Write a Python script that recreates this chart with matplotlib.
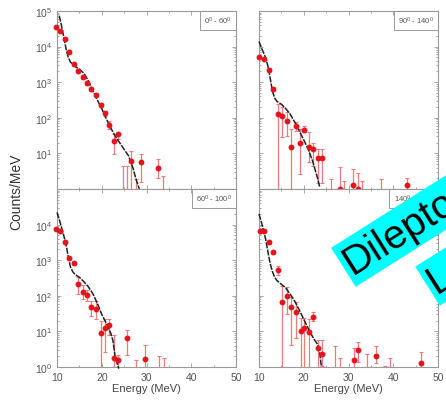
import matplotlib
matplotlib.use('Agg')
import matplotlib.pyplot as plt
import numpy as np
from matplotlib.ticker import FixedLocator, FixedFormatter, MultipleLocator, LogLocator, NullFormatter

plt.rcParams['font.family'] = ['Liberation Sans', 'DejaVu Sans']
plt.rcParams['mathtext.fontset'] = 'custom'
plt.rcParams['mathtext.rm'] = 'Liberation Sans'
plt.rcParams['mathtext.it'] = 'Liberation Sans'

nan = np.nan

# ---- 0 - 60 deg (top left) ----
e_a = [9.7, 10.7, 11.8, 12.75, 13.8, 14.8, 15.8, 16.8, 17.7, 18.7, 19.8, 20.7, 21.7, 22.7, 23.7,
       24.8, 25.7, 26.6, 27.6, 28.7, 32.6, 33.7]
v_a = [3.5e4, 2.8e4, 1.6e4, 7.2e3, 3.2e3, 2.1e3, 1.4e3, 950, 650, 450, 230, 134, 63, 22, 35,
       nan, nan, 6.3, nan, 5.6, 3.9, nan]
lo_a = [3.2e4, 2.6e4, 1.5e4, 6.6e3, 2.9e3, 1.9e3, 1.25e3, 850, 580, 400, 205, 110, 49, 9.6, 25,
        0.1, 0.1, 0.1, 0.1, 1.6, 2.1, 0.1]
hi_a = [3.8e4, 3.0e4, 1.7e4, 7.8e3, 3.5e3, 2.3e3, 1.55e3, 1050, 720, 500, 255, 160, 83, 35, 39,
        4.5, 4.4, 12, 1.9, 9.6, 6.9, 2.3]
ce_a = [10.5, 11.0, 11.5, 12.0, 12.5, 13.0, 13.5, 14.0, 15.0, 16.0, 17.0, 18.0, 19.0, 20.0, 21.0,
        22.0, 23.0, 24.0, 25.0, 26.0, 27.0, 27.6, 28.4]
cy_a = [7.4e4, 3.9e4, 1.9e4, 9.0e3, 5.0e3, 3.7e3, 3.2e3, 2.8e3, 2.3e3, 1.8e3, 1.1e3, 580, 320, 180, 95,
        52, 31, 20, 13, 8.5, 3.8, 2.0, 1.0]

# ---- 90 - 140 deg (top right) ----
e_b = [10.07, 11.2, 12.2, 13.2, 14.2, 15.2, 16.2, 17.2, 18.2, 19.2, 20.1, 21.2, 22.1, 23.1, 24.1,
       26.0, 28.0, 29.1, 31.0, 32.1, 33.1, 37.2, 43.1]
v_b = [5000, 4500, 2240, 645, 128, 110, 83, 15, 60, 19, 46, 15.5, 13, 7.3, 7.3,
       nan, 1.0, nan, 1.3, 1.0, nan, nan, 1.3]
lo_b = [4600, 4100, 2000, 560, 0.1, 28, 31, 0.1, 43, 2.6, 39, 5.6, 4.5, 1.5, 1.5,
        0.1, 0.1, 0.1, 0.1, 0.1, 0.1, 0.1, 1.0]
hi_b = [5400, 4900, 2500, 740, 245, 196, 142, 49, 78, 49, 60, 39, 20, 13, 13,
        1.9, 4.2, 1.7, 3.6, 2.9, 1.7, 1.9, 2.0]
ce_b = [10.0, 10.5, 11.0, 11.5, 12.0, 12.5, 13.0, 13.5, 14.0, 15.0, 16.0, 17.0, 18.0, 19.0, 20.0,
        21.0, 22.0, 22.5, 23.0, 23.6]
cy_b = [1.4e4, 9.5e3, 6.8e3, 4.8e3, 2.8e3, 1.3e3, 560, 360, 290, 240, 180, 125, 75, 43, 24,
        13, 6.0, 3.6, 2.2, 1.1]

# ---- 60 - 100 deg (bottom left) ----
e_c = [9.7, 10.7, 11.8, 12.75, 13.8, 14.8, 15.8, 16.8, 17.7, 18.7, 19.8, 20.7, 21.7, 22.7, 23.7,
       25.7, 27.6, 29.7, 32.8, 33.8]
v_c = [7600, 6500, 3150, 1130, 810, 220, 130, 108, 49, 42, 9, 12.5, 15.6, 1.8, 1.6,
       6.5, nan, 1.7, nan, nan]
lo_c = [7000, 6000, 2900, 1040, 740, 112, 81, 73, 27, 22, 0.1, 2.7, 8.1, 0.1, 0.1,
        2.2, 0.1, 0.1, 0.1, 0.1]
hi_c = [8200, 7000, 3400, 1220, 880, 337, 204, 141, 73, 73, 19.5, 22, 22, 8.1, 2.2,
        10.6, 1.6, 4.2, 2.0, 1.75]
ce_c = [10.0, 10.5, 11.0, 11.5, 12.0, 12.5, 13.0, 13.5, 14.0, 15.0, 16.0, 17.0, 18.0, 19.0, 20.0,
        21.0, 22.0, 22.5, 23.0, 23.5, 23.8]
cy_c = [2.2e4, 1.4e4, 8.5e3, 5.0e3, 2.8e3, 1.3e3, 650, 480, 400, 330, 250, 180, 115, 62, 30,
        17, 9, 5.5, 1.9, 1.2, 0.9]

# ---- 140 - 180 deg (bottom right) ----
e_d = [10.2, 11.2, 12.2, 13.2, 14.2, 15.2, 16.2, 17.2, 18.2, 19.3, 20.1, 21.2, 22.1, 23.1, 24.1,
       27.0, 28.0, 31.2, 32.2, 34.2, 36.2, 38.2, 39.2, 46.2]
v_d = [6800, 6800, 3150, 1660, 525, 65, 100, 47, 34, 10, 12.6, 9.6, 25, 3.5, 2.3,
       nan, nan, 1.6, 3.0, nan, 2.1, nan, nan, 1.3]
lo_d = [6300, 6300, 2900, 1530, 380, 0.1, 30, 4.2, 6.5, 0.1, 0.1, 0.1, 19.5, 0.1, 1.1,
        0.1, 0.1, 0.1, 1.4, 0.1, 1.26, 0.1, 0.1, 0.1]
hi_d = [7300, 7300, 3400, 1790, 680, 183, 175, 91, 65, 24, 24, 22, 34, 5.8, 5.8,
        3.8, 1.75, 3.4, 5.2, 2.3, 4.0, 1.1, 1.75, 2.7]
ce_d = [10.0, 10.5, 11.0, 11.5, 12.0, 12.5, 13.0, 13.5, 14.0, 15.0, 16.0, 17.0, 18.0, 19.0, 20.0,
        21.0, 22.0, 22.5, 23.0, 23.5, 23.7, 23.9]
cy_d = [2.0e4, 1.2e4, 7.0e3, 3.8e3, 1.7e3, 800, 480, 330, 270, 210, 165, 110, 70, 40, 22,
        12, 7, 5.5, 4.5, 3.0, 1.8, 1.1]

panel_labels = ['0$^0$ - 60$^0$', '90$^0$ - 140$^0$', '60$^0$ - 100$^0$', '140$^0$ - 180$^0$']
x_ticks = [10, 20, 30, 40, 50]
y_ticks = [1, 10, 100, 1e3, 1e4, 1e5]
y_labels_top = ['', '10$^1$', '10$^2$', '10$^3$', '10$^4$', '10$^5$']
y_labels_bot = ['10$^0$', '10$^1$', '10$^2$', '10$^3$', '10$^4$', '']

RED = '#e3141c'
BAR = '#f07a7a'
GRID = '#9a9a9a'

fig = plt.figure(figsize=(4.46, 4.02), dpi=100)
W, H = 446.0, 402.0
pos = [(57, 12), (259, 12), (57, 190), (259, 190)]   # left, top in pixels
pw, ph = 179, 178

data = [(e_a, v_a, lo_a, hi_a, ce_a, cy_a),
        (e_b, v_b, lo_b, hi_b, ce_b, cy_b),
        (e_c, v_c, lo_c, hi_c, ce_c, cy_c),
        (e_d, v_d, lo_d, hi_d, ce_d, cy_d)]

for i, (px, py) in enumerate(pos):
    ax = fig.add_axes([px / W, 1 - (py + ph) / H, pw / W, ph / H])
    e, v, lo, hi, ce, cy = [np.array(a, dtype=float) for a in data[i]]
    ax.set_yscale('log')
    ax.set_xlim(10, 50)
    ax.set_ylim(1, 1e5)

    # error bars (drawn from upper end down to lower end)
    ax.errorbar(e, hi, yerr=[hi - lo, np.zeros_like(hi)], fmt='none', ecolor=BAR,
                elinewidth=0.9, capsize=1.6, capthick=0.8, zorder=2)
    ok = ~np.isnan(v)
    ax.plot(e[ok], v[ok], 'o', ms=3.2, color=RED, mec=RED, zorder=4, clip_on=False)
    ax.plot(ce, cy, color='#222222', lw=1.1, dashes=(4, 0.8), zorder=3, clip_on=False)

    ax.text(0.978, 0.978, panel_labels[i], transform=ax.transAxes, ha='right', va='top',
            fontsize=5.5, color='#555555',
            bbox=dict(boxstyle='square,pad=0.55', fc='white', ec='#8a8a8a', lw=0.6))

    for s in ax.spines.values():
        s.set_color(GRID)
        s.set_linewidth(0.8)
    ax.xaxis.set_major_locator(FixedLocator(x_ticks))
    ax.xaxis.set_minor_locator(MultipleLocator(5))
    ax.yaxis.set_major_locator(FixedLocator(y_ticks))
    ax.yaxis.set_minor_locator(LogLocator(base=10, subs=np.arange(2, 10)))
    ax.yaxis.set_minor_formatter(NullFormatter())
    ax.tick_params(which='both', direction='in', top=True, right=True, color=GRID,
                   labelsize=7.5, labelcolor='#555555', width=0.6)
    ax.tick_params(which='major', length=3)
    ax.tick_params(which='minor', length=1.5)

    if i < 2:
        ax.set_xticklabels([])
    else:
        ax.set_xticklabels([str(t) for t in x_ticks])
        ax.set_xlabel('Energy (MeV)', fontsize=8, color='#444444', labelpad=1)
    if i % 2 == 1:
        ax.set_yticklabels([])
    else:
        ax.yaxis.set_major_formatter(FixedFormatter(y_labels_top if i == 0 else y_labels_bot))

fig.text(16 / W, 1 - 192 / H, 'Counts/MeV', rotation=90, ha='center', va='center',
         fontsize=10, color='#333333')

# cyan watermark band over the lower right panel
band = dict(boxstyle='square,pad=0.1', fc='#00ffff', ec='none')
fig.text(346.8 / W, 1 - 266.2 / H, 'Dilepton', rotation=32.3, rotation_mode='anchor',
         ha='left', va='center', fontsize=29, color='black', bbox=band, zorder=20)
fig.text(431.0 / W, 1 - 285.0 / H, 'Lepton', rotation=32.3, rotation_mode='anchor',
         ha='left', va='center', fontsize=29, color='black', bbox=band, zorder=20)

fig.savefig('out.png', dpi=100)
